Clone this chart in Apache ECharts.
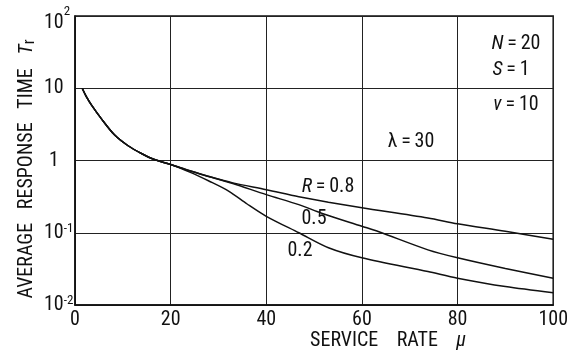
<!DOCTYPE html>
<html><head><meta charset="utf-8">
<script src="https://cdn.jsdelivr.net/npm/echarts@6/dist/echarts.min.js"></script>
<style>html,body{margin:0;padding:0;background:#fff}#c{width:571px;height:356px}</style>
</head><body><div id="c"></div>
<script>
// ---- data ----
const muCommon = [1.5, 2.4, 3.5, 5.5, 8.3, 11.1, 13.9, 16.6, 20];
const tCommon  = [10, 7.6, 5.8, 3.8, 2.25, 1.6, 1.25, 1.03, 0.88];

const muR08 = [24, 28, 33, 40, 46.8, 53, 60, 73.8, 80, 90, 100];
const tR08  = [0.72, 0.6, 0.49, 0.395, 0.315, 0.265, 0.222, 0.16, 0.133, 0.105, 0.081];

const muR05 = [24, 28, 33, 40, 46.8, 51.7, 60, 63.4, 73.8, 80, 90, 100];
const tR05  = [0.72, 0.6, 0.48, 0.337, 0.245, 0.185, 0.123, 0.104, 0.058, 0.045, 0.032, 0.0235];

const muR02 = [24, 28, 32.2, 36, 40, 46.8, 53, 60, 73.8, 80, 90, 100];
const tR02  = [0.69, 0.52, 0.375, 0.25, 0.169, 0.1, 0.062, 0.045, 0.029, 0.0235, 0.018, 0.0148];

const xTicks = [0, 20, 40, 60, 80, 100];
const yTickValues = [0.01, 0.1, 1, 10, 100];
const yTickBase   = ['10', '10', '1', '10', '10'];
const yTickExp    = ['-2', '-1', '', '', '2'];

const seriesNames = ['R=0.8', '0.5', '0.2'];
// ---------------------------------------

const FONT = "'Roboto Condensed','DejaVu Sans Condensed',sans-serif";
const INK = '#111';
function pairs(mu, t) { return mu.map((m, i) => [m, t[i]]); }
const branches = [[muR08, tR08], [muR05, tR05], [muR02, tR02]];
const txt = (size, extra) => Object.assign({fontFamily: FONT, fontSize: size, fill: INK}, extra || {});
const TS = '\u2009';

const chart = echarts.init(document.getElementById('c'), null, {renderer: 'canvas'});
chart.setOption({
  animation: false,
  backgroundColor: '#fff',
  grid: {left: 75, right: 15, top: 16, bottom: 51, show: true, borderColor: INK, borderWidth: 1.5},
  xAxis: {
    type: 'value', min: xTicks[0], max: xTicks[xTicks.length - 1], interval: 20,
    axisLine: {show: true, lineStyle: {color: INK, width: 1.5}},
    axisTick: {show: false},
    splitLine: {show: true, lineStyle: {color: '#222', width: 1}},
    axisLabel: {color: INK, fontFamily: FONT, fontSize: 20, margin: 5, formatter: v => String(v)}
  },
  yAxis: {
    type: 'log', logBase: 10, min: yTickValues[0], max: yTickValues[yTickValues.length - 1],
    axisLine: {show: true, lineStyle: {color: INK, width: 1.5}},
    axisTick: {show: false}, minorTick: {show: false},
    splitLine: {show: true, lineStyle: {color: '#222', width: 1}},
    axisLabel: {
      color: INK, fontFamily: FONT, fontSize: 20, align: 'left', margin: 31,
      formatter: v => {
        const idx = yTickValues.findIndex(t => Math.abs(Math.log10(t) - Math.log10(v)) < 1e-6);
        if (idx < 0) return '';
        const b = yTickBase[idx], e = yTickExp[idx];
        if (b === '1') return '{one|1}';
        const top = idx === yTickValues.length - 1;
        return '{' + (top ? 'bt' : 'b') + '|' + b + '}' + (e ? '{' + (top ? 'st' : 's') + '|' + e + '}' : '');
      },
      rich: {
        b: {fontFamily: FONT, fontSize: 20, color: INK},
        bt: {fontFamily: FONT, fontSize: 20, color: INK, padding: [14, 0, 0, 0]},
        one: {fontFamily: FONT, fontSize: 20, color: INK, padding: [0, 0, 0, 5]},
        s: {fontFamily: FONT, fontSize: 13, color: INK, verticalAlign: 'top', padding: [0, 0, 8, 0]},
        st: {fontFamily: FONT, fontSize: 13, color: INK, verticalAlign: 'top', padding: [6, 0, 0, 0]}
      }
    }
  },
  series: branches.map((br, k) => ({
    name: seriesNames[k], type: 'line', smooth: 0.3, showSymbol: false,
    lineStyle: {color: INK, width: 1.5},
    data: pairs(muCommon, tCommon).concat(pairs(br[0], br[1]))
  })),
  graphic: [
    {type: 'text', x: 27, y: 169, rotation: Math.PI / 2,
      style: {text: '{n|AVERAGE   RESPONSE   TIME   }{i|T}{r|r}', textAlign: 'center', textVerticalAlign: 'middle',
        rich: {n: txt(20), i: txt(20, {fontStyle: 'italic'}), r: txt(16, {padding: [6, 0, 0, 0]})}}},
    {type: 'text', x: 388, y: 341,
      style: {text: '{n|SERVICE    RATE    }{i|μ}', textAlign: 'center', textVerticalAlign: 'middle',
        rich: {n: txt(20), i: txt(20, {fontStyle: 'italic'})}}},
    {type: 'text', x: 516, y: 44, style: {text: '{i|N}{n|' + TS + '=' + TS + '20}', textAlign: 'center', textVerticalAlign: 'middle',
      rich: {i: txt(20, {fontStyle: 'italic'}), n: txt(20)}}},
    {type: 'text', x: 511, y: 70, style: {text: '{i|S}{n|' + TS + '=' + TS + '1}', textAlign: 'center', textVerticalAlign: 'middle',
      rich: {i: txt(20, {fontStyle: 'italic'}), n: txt(20)}}},
    {type: 'text', x: 516, y: 105, style: {text: '{i|ν}{n|' + TS + '=' + TS + '10}', textAlign: 'center', textVerticalAlign: 'middle',
      rich: {i: txt(20, {fontStyle: 'italic'}), n: txt(20)}}},
    {type: 'text', x: 411, y: 142, style: {text: '{n|λ' + TS + '=' + TS + '30}', textAlign: 'center', textVerticalAlign: 'middle',
      rich: {n: txt(20)}}},
    {type: 'text', x: 328, y: 187, style: {text: '{i|R}{n|' + TS + '=' + TS + '0.8}', textAlign: 'center', textVerticalAlign: 'middle',
      rich: {i: txt(20, {fontStyle: 'italic'}), n: txt(20)}}},
    {type: 'text', x: 314, y: 219, style: {text: '0.5', textAlign: 'center', textVerticalAlign: 'middle',
      fontFamily: FONT, fontSize: 20, fill: INK}},
    {type: 'text', x: 300, y: 251, style: {text: '0.2', textAlign: 'center', textVerticalAlign: 'middle',
      fontFamily: FONT, fontSize: 20, fill: INK}}
  ]
});
</script>
</body></html>
